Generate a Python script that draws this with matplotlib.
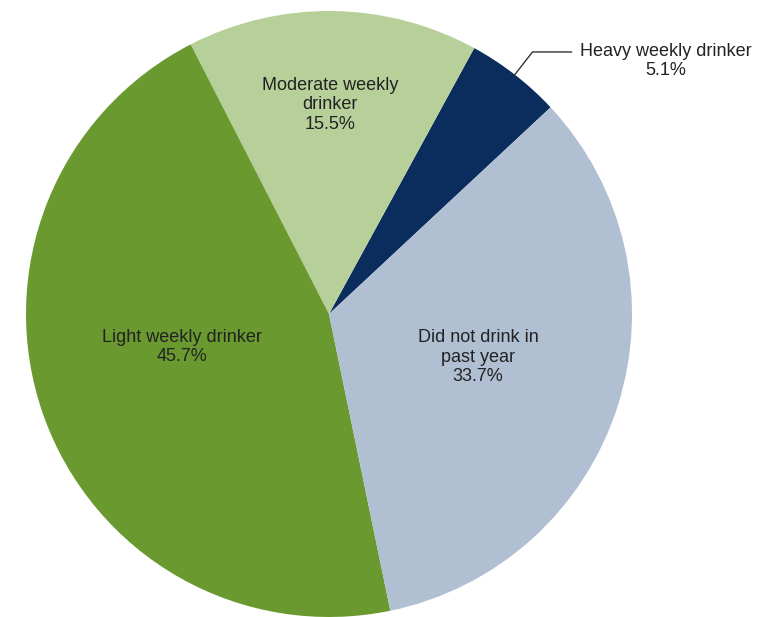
import numpy as np
import matplotlib
matplotlib.use("Agg")
import matplotlib.pyplot as plt

plt.rcParams['font.family'] = ['Liberation Sans', 'DejaVu Sans']

# slices, counter-clockwise from the heavy drinker wedge
categories = ['Heavy weekly drinker', 'Moderate weekly\ndrinker',
              'Light weekly drinker', 'Did not drink in\npast year']
shares = [5.1, 15.5, 45.7, 33.7]
colors = ['#0b2d5e', '#b7d09a', '#6a9a2f', '#b0bfd2']

fig = plt.figure(figsize=(7.74, 6.17), dpi=100)
ax = fig.add_axes([26 / 774, 0, 606 / 774, 606 / 617])

wedges, _ = ax.pie(shares, colors=colors, startangle=43, counterclock=True,
                   wedgeprops=dict(linewidth=0))
ax.set_xlim(-1, 1)
ax.set_ylim(-1, 1)

txt = dict(fontsize=13, linespacing=1.16, color='#222222')

# inside labels, positions in pie units
label_pos = {1: (0.003, 0.69), 2: (-0.485, -0.109), 3: (0.492, -0.142)}
for i, (x, y) in label_pos.items():
    ax.text(x, y, f'{categories[i]}\n{shares[i]}%', ha='center', va='center', **txt)

# heavy drinker: outside label with leader line
w = wedges[0]
mid = np.deg2rad((w.theta1 + w.theta2) / 2)
ax.annotate(f'{categories[0]}\n{shares[0]}%',
            xy=(np.cos(mid), np.sin(mid)), xytext=(1.112, 0.835),
            ha='center', va='center', multialignment='center',
            annotation_clip=False, **txt,
            arrowprops=dict(arrowstyle='-', color='#333333', lw=1.0,
                            shrinkA=4, shrinkB=0, relpos=(0, 0.75),
                            connectionstyle='angle,angleA=0,angleB=52,rad=0'))

fig.savefig('out.png', dpi=100)
